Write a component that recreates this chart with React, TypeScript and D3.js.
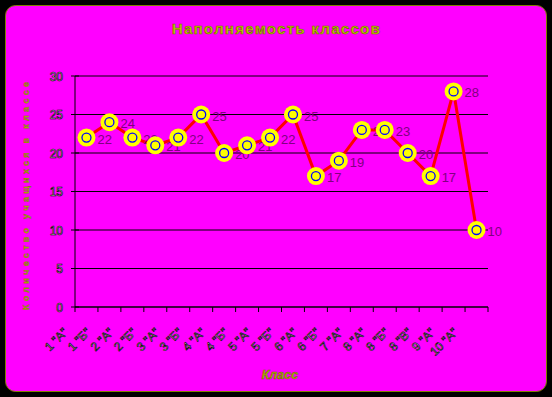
import React from 'react';
import * as d3 from 'd3';

// наполняемость классов
const classes = ['1 "А"', '1 "Б"', '2 "А"', '2 "Б"', '3 "А"', '3 "Б"', '4 "А"', '4 "Б"', '5 "А"',
  '5 "Б"', '6 "А"', '6 "Б"', '7 "А"', '8 "А"', '8 "Б"', '8 "В"', '9 "А"', '10 "А"'];
const pupils = [22, 24, 22, 21, 22, 25, 20, 21, 22, 25, 17, 19, 23, 23, 20, 17, 28, 10];
const yTicks = [0, 5, 10, 15, 20, 25, 30];

const W = 552, H = 397;
const margin = {top: 76, right: 64, bottom: 90, left: 75};

export default function App(){
  const x = d3.scaleBand().domain(classes).range([margin.left, W - margin.right]);
  const y = d3.scaleLinear().domain([0, 30]).range([H - margin.bottom, margin.top]);
  const cx = (d: string) => (x(d) as number) + x.bandwidth() / 2;

  const line = d3.line<number>()
    .x((d, i) => cx(classes[i]))
    .y((d) => y(d));

  const x0 = margin.left, x1 = W - margin.right, y0 = y(0);
  const tickTextStyle = {fill: '#dcdcdc', stroke: '#000', strokeWidth: 0.6} as any;

  return (
    <svg width={W} height={H} style={{position: 'absolute', left: 0, top: 0, background: '#000'}}
      fontFamily="Arial, 'Liberation Sans', sans-serif">
      <rect x={5.5} y={5.5} width={541} height={386} rx={10} fill="#ff00ff" stroke="#808000" />

      <text x={276} y={34} textAnchor="middle" fontSize={15} fontWeight="bold" textLength={208}
        fill="#c4c400" stroke="#6a6a00" strokeWidth={0.6}>Наполняемость классов</text>

      {/* grid */}
      {yTicks.filter((t) => t > 0).map((t) => (
        <line key={t} x1={x0} x2={x1} y1={y(t)} y2={y(t)} stroke="#000" />
      ))}

      {/* y axis */}
      <line x1={x0} x2={x0} y1={y(30)} y2={y0} stroke="#000" />
      {yTicks.map((t) => (
        <g key={t}>
          <line x1={x0 - 4} x2={x0 + 4} y1={y(t)} y2={y(t)} stroke="#000" />
          <text x={63} y={y(t) + 4.5} textAnchor="end" fontSize={12} style={tickTextStyle}>{t}</text>
        </g>
      ))}

      {/* x axis */}
      <line x1={x0} x2={x1} y1={y0} y2={y0} stroke="#000" strokeWidth={1.5} />
      {classes.concat(['']).map((c, i) => {
        const tx = x0 + i * x.bandwidth();
        return <line key={i} x1={tx} x2={tx} y1={y0} y2={y0 + 5} stroke="#000" />;
      })}
      {classes.map((c) => (
        <text key={c} transform={`translate(${cx(c) - 18},333) rotate(-45)`} textAnchor="end"
          fontSize={12} style={tickTextStyle}>{c}</text>
      ))}

      <text transform="translate(29,196) rotate(-90)" textAnchor="middle" fontSize={9} fontWeight="bold"
        textLength={228} fill="#a8a800" stroke="#6a6a00" strokeWidth={0.3}>Количество учащихся в классе</text>
      <text x={280} y={379} textAnchor="middle" fontSize={12.5} fontWeight="bold" fontStyle="italic"
        fill="#b0b000" stroke="#6a6a00" strokeWidth={0.5}>Класс</text>

      {/* series */}
      <path d={line(pupils) as string} fill="none" stroke="#ff0000" strokeWidth={3} />
      {pupils.map((v, i) => (
        <g key={i}>
          <circle cx={cx(classes[i])} cy={y(v)} r={9} fill="#ffff00" />
          <circle cx={cx(classes[i])} cy={y(v)} r={4.5} fill="#ffff00" stroke="#0000ff" strokeWidth={1.3} />
          <text x={cx(classes[i]) + 11} y={y(v) + 6} fontSize={13} fill="#800080">{v}</text>
        </g>
      ))}
    </svg>
  );
}
